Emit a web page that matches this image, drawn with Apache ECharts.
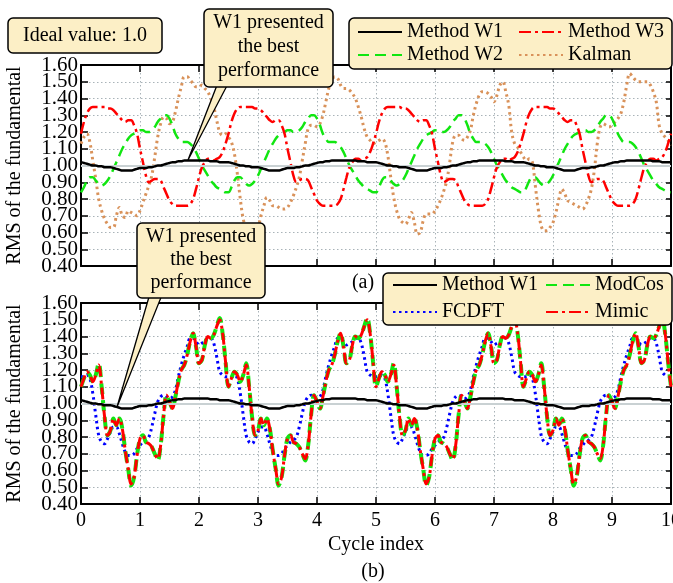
<!DOCTYPE html>
<html><head><meta charset="utf-8">
<script src="https://cdn.jsdelivr.net/npm/echarts@6/dist/echarts.min.js"></script>
<style>html,body{margin:0;padding:0;background:#fff}#c{width:673px;height:583px}</style>
</head><body><div id="c"></div>
<script>
// sample spacing along "Cycle index"
const step = 0.05;
const yTickLabels = ['0.40','0.50','0.60','0.70','0.80','0.90','1.00','1.10','1.20','1.30','1.40','1.50','1.60'];
const xTickLabels = ['0','1','2','3','4','5','6','7','8','9','10'];

// ---- (a) ----
const methodW1 = [
1.02,1.015,1.01,1.005,1.00,1.00,0.995,0.995,0.99,0.99,0.99,0.985,0.98,0.975,0.97,0.97,0.97,0.97,0.975,0.98,0.985,0.985,0.985,0.99,0.99,0.995,1.00,1.00,1.005,1.01,1.015,1.02,1.02,1.025,1.025,1.03,1.03,1.03,1.03,1.03,1.03,1.03,1.03,1.03,1.025,1.025,1.025,1.02,1.02,1.02,
1.02,1.015,1.01,1.005,1.00,1.00,0.995,0.995,0.99,0.99,0.99,0.985,0.98,0.975,0.97,0.97,0.97,0.97,0.975,0.98,0.985,0.985,0.985,0.99,0.99,0.995,1.00,1.00,1.005,1.01,1.015,1.02,1.02,1.025,1.025,1.03,1.03,1.03,1.03,1.03,1.03,1.03,1.03,1.03,1.025,1.025,1.025,1.02,1.02,1.02,
1.02,1.015,1.01,1.005,1.00,1.00,0.995,0.995,0.99,0.99,0.99,0.985,0.98,0.975,0.97,0.97,0.97,0.97,0.975,0.98,0.985,0.985,0.985,0.99,0.99,0.995,1.00,1.00,1.005,1.01,1.015,1.02,1.02,1.025,1.025,1.03,1.03,1.03,1.03,1.03,1.03,1.03,1.03,1.03,1.025,1.025,1.025,1.02,1.02,1.02,
1.02,1.015,1.01,1.005,1.00,1.00,0.995,0.995,0.99,0.99,0.99,0.985,0.98,0.975,0.97,0.97,0.97,0.97,0.975,0.98,0.985,0.985,0.985,0.99,0.99,0.995,1.00,1.00,1.005,1.01,1.015,1.02,1.02,1.025,1.025,1.03,1.03,1.03,1.03,1.03,1.03,1.03,1.03,1.03,1.025,1.025,1.025,1.02,1.02,1.02,
1.02];
const methodW2 = [
0.84,0.87,0.91,0.93,0.93,0.91,0.89,0.88,0.89,0.91,0.94,0.98,1.02,1.06,1.10,1.13,1.16,1.18,1.19,1.20,1.21,1.21,1.20,1.20,1.21,1.23,1.26,1.28,1.30,1.30,1.28,1.24,1.19,1.16,1.14,1.14,1.14,1.13,1.11,1.08,1.04,1.00,0.97,0.94,0.91,0.89,0.87,0.86,0.85,0.84,
0.84,0.87,0.91,0.93,0.93,0.91,0.89,0.88,0.89,0.91,0.94,0.98,1.02,1.06,1.10,1.13,1.16,1.18,1.19,1.20,1.21,1.21,1.20,1.20,1.21,1.23,1.26,1.28,1.30,1.30,1.28,1.24,1.19,1.16,1.14,1.14,1.14,1.13,1.11,1.08,1.04,1.00,0.97,0.94,0.91,0.89,0.87,0.86,0.85,0.84,
0.84,0.87,0.91,0.93,0.93,0.91,0.89,0.88,0.89,0.91,0.94,0.98,1.02,1.06,1.10,1.13,1.16,1.18,1.19,1.20,1.21,1.21,1.20,1.20,1.21,1.23,1.26,1.28,1.30,1.30,1.28,1.24,1.19,1.16,1.14,1.14,1.14,1.13,1.11,1.08,1.04,1.00,0.97,0.94,0.91,0.89,0.87,0.86,0.85,0.84,
0.84,0.87,0.91,0.93,0.93,0.91,0.89,0.88,0.89,0.91,0.94,0.98,1.02,1.06,1.10,1.13,1.16,1.18,1.19,1.20,1.21,1.21,1.20,1.20,1.21,1.23,1.26,1.28,1.30,1.30,1.28,1.24,1.19,1.16,1.14,1.14,1.14,1.13,1.11,1.08,1.04,1.00,0.97,0.94,0.91,0.89,0.87,0.86,0.85,0.84,
0.84];
const methodW3 = [
1.19,1.26,1.31,1.34,1.35,1.35,1.35,1.35,1.35,1.34,1.34,1.33,1.31,1.29,1.27,1.26,1.27,1.27,1.24,1.19,1.10,1.02,0.94,0.90,0.91,0.92,0.92,0.91,0.87,0.83,0.79,0.77,0.76,0.76,0.76,0.76,0.76,0.77,0.80,0.86,0.93,0.99,1.02,1.04,1.04,1.03,1.04,1.05,1.08,1.13,
1.19,1.26,1.31,1.34,1.35,1.35,1.35,1.35,1.35,1.34,1.34,1.33,1.31,1.29,1.27,1.26,1.27,1.27,1.24,1.19,1.10,1.02,0.94,0.90,0.91,0.92,0.92,0.91,0.87,0.83,0.79,0.77,0.76,0.76,0.76,0.76,0.76,0.77,0.80,0.86,0.93,0.99,1.02,1.04,1.04,1.03,1.04,1.05,1.08,1.13,
1.19,1.26,1.31,1.34,1.35,1.35,1.35,1.35,1.35,1.34,1.34,1.33,1.31,1.29,1.27,1.26,1.27,1.27,1.24,1.19,1.10,1.02,0.94,0.90,0.91,0.92,0.92,0.91,0.87,0.83,0.79,0.77,0.76,0.76,0.76,0.76,0.76,0.77,0.80,0.86,0.93,0.99,1.02,1.04,1.04,1.03,1.04,1.05,1.08,1.13,
1.19,1.26,1.31,1.34,1.35,1.35,1.35,1.35,1.35,1.34,1.34,1.33,1.31,1.29,1.27,1.26,1.27,1.27,1.24,1.19,1.10,1.02,0.94,0.90,0.91,0.92,0.92,0.91,0.87,0.83,0.79,0.77,0.76,0.76,0.76,0.76,0.76,0.77,0.80,0.86,0.93,0.99,1.02,1.04,1.04,1.03,1.04,1.05,1.08,1.13,
1.19];
const kalman = [
1.13,1.17,1.19,1.14,1.03,0.92,0.80,0.73,0.68,0.65,0.63,0.63,0.70,0.75,0.70,0.69,0.73,0.72,0.71,0.70,0.73,0.78,0.83,0.88,0.94,1.05,1.17,1.25,1.29,1.28,1.25,1.26,1.32,1.40,1.47,1.53,1.53,1.51,1.49,1.47,1.47,1.48,1.46,1.44,1.40,1.35,1.27,1.20,1.18,1.19,
1.17,1.14,1.07,0.95,0.80,0.68,0.63,0.61,0.60,0.60,0.63,0.70,0.76,0.81,0.79,0.76,0.76,0.75,0.74,0.74,0.75,0.78,0.82,0.87,0.93,1.03,1.13,1.22,1.24,1.24,1.23,1.25,1.30,1.38,1.46,1.51,1.53,1.52,1.48,1.46,1.46,1.45,1.43,1.40,1.35,1.29,1.22,1.17,1.15,1.13,
1.14,1.15,1.16,1.14,1.06,0.93,0.81,0.73,0.68,0.66,0.65,0.68,0.72,0.66,0.59,0.60,0.67,0.71,0.71,0.71,0.73,0.76,0.80,0.85,0.91,1.02,1.14,1.18,1.18,1.16,1.15,1.17,1.21,1.30,1.37,1.42,1.44,1.44,1.43,1.41,1.38,1.42,1.48,1.50,1.44,1.36,1.20,1.13,1.11,1.08,
1.05,1.03,1.04,1.02,0.88,0.74,0.64,0.61,0.61,0.63,0.66,0.72,0.80,0.86,0.83,0.79,0.78,0.77,0.76,0.75,0.74,0.76,0.80,0.86,0.97,1.13,1.23,1.25,1.24,1.23,1.24,1.26,1.28,1.31,1.38,1.48,1.55,1.53,1.51,1.50,1.50,1.50,1.50,1.48,1.44,1.38,1.24,1.19,1.17,1.15,
1.12];

// ---- (b) ----
const fcdft = [
1.16,1.16,1.17,1.15,1.06,0.93,0.81,0.77,0.76,0.79,0.83,0.86,0.86,0.82,0.76,0.71,0.69,0.69,0.70,0.73,0.75,0.77,0.78,0.80,0.86,0.94,1.01,1.04,1.05,1.04,1.03,1.04,1.08,1.16,1.23,1.29,1.34,1.39,1.39,1.37,1.35,1.36,1.37,1.39,1.39,1.36,1.28,1.19,1.17,1.16,
1.16,1.16,1.17,1.15,1.06,0.93,0.81,0.77,0.76,0.79,0.83,0.86,0.86,0.82,0.76,0.71,0.69,0.69,0.70,0.73,0.75,0.77,0.78,0.80,0.86,0.94,1.01,1.04,1.05,1.04,1.03,1.04,1.08,1.16,1.23,1.29,1.34,1.39,1.39,1.37,1.35,1.36,1.37,1.39,1.39,1.36,1.28,1.19,1.17,1.16,
1.16,1.16,1.17,1.15,1.06,0.93,0.81,0.77,0.76,0.79,0.83,0.86,0.86,0.82,0.76,0.71,0.69,0.69,0.70,0.73,0.75,0.77,0.78,0.80,0.86,0.94,1.01,1.04,1.05,1.04,1.03,1.04,1.08,1.16,1.23,1.29,1.34,1.39,1.39,1.37,1.35,1.36,1.37,1.39,1.39,1.36,1.28,1.19,1.17,1.16,
1.16,1.16,1.17,1.15,1.06,0.93,0.81,0.77,0.76,0.79,0.83,0.86,0.86,0.82,0.76,0.71,0.69,0.69,0.70,0.73,0.75,0.77,0.78,0.80,0.86,0.94,1.01,1.04,1.05,1.04,1.03,1.04,1.08,1.16,1.23,1.29,1.34,1.39,1.39,1.37,1.35,1.36,1.37,1.39,1.39,1.36,1.28,1.19,1.17,1.16,
1.16];
const mimic = [
1.10,1.15,1.19,1.17,1.13,1.17,1.23,1.10,0.92,0.81,0.84,0.91,0.87,0.91,0.85,0.72,0.61,0.52,0.56,0.69,0.79,0.81,0.77,0.76,0.74,0.70,0.67,0.75,0.93,1.05,1.01,0.97,1.04,1.13,1.20,1.23,1.29,1.37,1.42,1.34,1.24,1.26,1.35,1.40,1.39,1.41,1.46,1.50,1.42,1.25,
1.10,1.15,1.19,1.17,1.13,1.17,1.23,1.10,0.92,0.81,0.84,0.91,0.87,0.91,0.85,0.72,0.61,0.52,0.56,0.69,0.79,0.81,0.77,0.76,0.74,0.70,0.67,0.75,0.93,1.05,1.01,0.97,1.04,1.13,1.20,1.23,1.29,1.37,1.42,1.34,1.24,1.26,1.35,1.40,1.39,1.41,1.46,1.50,1.42,1.25,
1.10,1.15,1.19,1.17,1.13,1.17,1.23,1.10,0.92,0.81,0.84,0.91,0.87,0.91,0.85,0.72,0.61,0.52,0.56,0.69,0.79,0.81,0.77,0.76,0.74,0.70,0.67,0.75,0.93,1.05,1.01,0.97,1.04,1.13,1.20,1.23,1.29,1.37,1.42,1.34,1.24,1.26,1.35,1.40,1.39,1.41,1.46,1.50,1.42,1.25,
1.10,1.15,1.19,1.17,1.13,1.17,1.23,1.10,0.92,0.81,0.84,0.91,0.87,0.91,0.85,0.72,0.61,0.52,0.56,0.69,0.79,0.81,0.77,0.76,0.74,0.70,0.67,0.75,0.93,1.05,1.01,0.97,1.04,1.13,1.20,1.23,1.29,1.37,1.42,1.34,1.24,1.26,1.35,1.40,1.39,1.41,1.46,1.50,1.42,1.25,
1.10];
const modCos = [
1.10,1.15,1.19,1.17,1.13,1.17,1.24,1.10,0.92,0.81,0.84,0.91,0.87,0.91,0.85,0.72,0.61,0.51,0.56,0.69,0.79,0.81,0.77,0.76,0.74,0.70,0.66,0.75,0.93,1.05,1.01,0.97,1.04,1.13,1.20,1.23,1.29,1.37,1.42,1.34,1.24,1.26,1.35,1.40,1.39,1.41,1.46,1.51,1.42,1.25,
1.10,1.15,1.19,1.17,1.13,1.17,1.24,1.10,0.92,0.81,0.84,0.91,0.87,0.91,0.85,0.72,0.61,0.51,0.56,0.69,0.79,0.81,0.77,0.76,0.74,0.70,0.66,0.75,0.93,1.05,1.01,0.97,1.04,1.13,1.20,1.23,1.29,1.37,1.42,1.34,1.24,1.26,1.35,1.40,1.39,1.41,1.46,1.51,1.42,1.25,
1.10,1.15,1.19,1.17,1.13,1.17,1.24,1.10,0.92,0.81,0.84,0.91,0.87,0.91,0.85,0.72,0.61,0.51,0.56,0.69,0.79,0.81,0.77,0.76,0.74,0.70,0.66,0.75,0.93,1.05,1.01,0.97,1.04,1.13,1.20,1.23,1.29,1.37,1.42,1.34,1.24,1.26,1.35,1.40,1.39,1.41,1.46,1.51,1.42,1.25,
1.10,1.15,1.19,1.17,1.13,1.17,1.24,1.10,0.92,0.81,0.84,0.91,0.87,0.91,0.85,0.72,0.61,0.51,0.56,0.69,0.79,0.81,0.77,0.76,0.74,0.70,0.66,0.75,0.93,1.05,1.01,0.97,1.04,1.13,1.20,1.23,1.29,1.37,1.42,1.34,1.24,1.26,1.35,1.40,1.39,1.41,1.46,1.51,1.42,1.25,
1.10];

const FONT = 'Liberation Serif';
const CREAM = '#fcefc6';
const pairs = arr => arr.map((v, i) => [Math.round(i * step * 100) / 100, v]);

const chart = echarts.init(document.getElementById('c'), null, {renderer: 'canvas'});

function xAx(grid, pos, labels) {
  return {
    gridIndex: grid, type: 'value', min: 0, max: 10, interval: 1, position: pos,
    axisLine: {show: true, onZero: false, lineStyle: {color: '#000', width: 2}},
    axisTick: {show: true, inside: true, length: 7, lineStyle: {color: '#000', width: 1.5}},
    axisLabel: {show: labels, color: '#000', fontFamily: FONT, fontSize: 20, margin: 7, hideOverlap: false,
      formatter: v => xTickLabels[Math.round(v)], showMinLabel: true, showMaxLabel: true},
    splitLine: {show: pos === 'bottom', lineStyle: {color: '#a9b3b8', type: [1.5, 2.5], width: 1}},
    name: labels ? 'Cycle index' : '', nameLocation: 'middle', nameGap: 31,
    nameTextStyle: {color: '#000', fontFamily: FONT, fontSize: 20}
  };
}
const yLabelStyle = {fontFamily: FONT, fontSize: 21, color: '#000', lineHeight: 12, height: 12, padding: 0};
function yAx(grid, pos) {
  const left = pos === 'left';
  return {
    gridIndex: grid, type: 'value', min: 0.4, max: 1.6, interval: 0.1, position: pos,
    axisLine: {show: true, onZero: false, lineStyle: {color: '#000', width: 2}},
    axisTick: {show: true, inside: true, length: left ? 7 : 5, lineStyle: {color: '#000', width: 1.5}},
    axisLabel: {show: left, color: '#000', margin: 3, hideOverlap: false,
      formatter: v => '{t|' + yTickLabels[Math.round((v - 0.4) * 10)] + '}',
      rich: {t: yLabelStyle},
      showMinLabel: false, showMaxLabel: false},
    splitLine: {show: left, lineStyle: {color: '#a9b3b8', type: [1.5, 2.5], width: 1}},
    name: left ? 'RMS of the fundamental' : '', nameLocation: 'middle', nameGap: 56,
    nameTextStyle: {color: '#000', fontFamily: FONT, fontSize: 20}
  };
}
// companion left axis carrying only the end labels (0.40 and 1.60)
function yEnds(grid) {
  return {
    gridIndex: grid, type: 'value', min: 0.4, max: 1.6, interval: 1.2, position: 'left',
    axisLine: {show: false}, axisTick: {show: false}, splitLine: {show: false},
    axisLabel: {show: true, margin: 3, hideOverlap: false,
      formatter: v => '{t|' + yTickLabels[Math.round((v - 0.4) * 10)] + '}',
      rich: {t: yLabelStyle}, showMinLabel: true, showMaxLabel: true}
  };
}
function line(name, data, gi, color, width, type, z) {
  return {
    name, type: 'line', data: pairs(data), xAxisIndex: gi * 2, yAxisIndex: gi * 2,
    symbol: 'none', showSymbol: false, smooth: 0.35, z: z, animation: false,
    lineStyle: {color, width, type, cap: 'butt'}, itemStyle: {color}
  };
}
const refLine = {silent: true, symbol: 'none', label: {show: false},
  lineStyle: {color: '#c9d1d3', type: 'solid', width: 2}, data: [{yAxis: 1}]};

const sKal = line('Kalman', kalman, 0, '#d9925a', 3, [2.5, 3.5], 2); sKal.markLine = refLine;
const sFc = line('FCDFT', fcdft, 1, '#0000ff', 3, [2.5, 3.5], 2); sFc.markLine = refLine;

const legendText = {color: '#000', fontFamily: FONT, fontSize: 20, lineHeight: 20};
function leg(left, top, data, gap) {
  return {left, top, orient: 'vertical', data, itemWidth: 44, itemHeight: 14, itemGap: gap,
    padding: 0, textStyle: legendText, z: 200, selectedMode: false,
    itemStyle: {opacity: 0, borderWidth: 0}};
}

function box(x, y, w, h) {
  return {type: 'rect', shape: {x, y, width: w, height: h, r: 5}, z: 100,
    style: {fill: CREAM, stroke: '#000', lineWidth: 1.5}};
}
function txt(x, y, text, lh) {
  return {type: 'text', x, y, z: 101, style: {text, fill: '#000', fontFamily: FONT, fontSize: 20,
    textAlign: 'center', textVerticalAlign: 'middle', lineHeight: lh || 20}};
}
function tail(pts) {
  return {type: 'polygon', shape: {points: pts}, z: 99,
    style: {fill: CREAM, stroke: '#000', lineWidth: 1.3}};
}

chart.setOption({
  animation: false,
  backgroundColor: '#fff',
  grid: [
    {left: 81, top: 65, width: 590, height: 201, outerBoundsMode: 'none'},
    {left: 81, top: 303, width: 590, height: 201, outerBoundsMode: 'none'}
  ],
  xAxis: [xAx(0, 'bottom', false), xAx(0, 'top', false), xAx(1, 'bottom', true), xAx(1, 'top', false)],
  yAxis: [yAx(0, 'left'), yAx(0, 'right'), yAx(1, 'left'), yAx(1, 'right'), yEnds(0), yEnds(1)],
  legend: [
    leg(357, 22, ['Method W1', 'Method W2'], 3),
    leg(518, 22, ['Method W3', 'Kalman'], 3),
    leg(392, 275, ['Method W1', 'FCDFT'], 7),
    leg(545, 275, ['ModCos', 'Mimic'], 7)
  ],
  series: [
    sKal,
    line('Method W2', methodW2, 0, '#11e611', 2.5, [11, 6], 3),
    line('Method W3', methodW3, 0, '#ff0000', 2.5, [12, 4, 3, 4], 4),
    line('Method W1', methodW1, 0, '#000000', 2.5, 'solid', 5),
    sFc,
    line('ModCos', modCos, 1, '#11e611', 4, [11, 6], 3),
    line('Mimic', mimic, 1, '#ff0000', 3, [12, 4, 3, 4], 4),
    line('Method W1', methodW1, 1, '#000000', 2.5, 'solid', 5)
  ],
  graphic: [
    box(349, 18, 323, 51),
    box(383, 273, 289, 52),
    box(8, 18, 154, 35),
    txt(85, 36, 'Ideal value: 1.0'),
    tail([[219, 80], [230, 80], [188, 160]]),
    box(204, 9, 129, 78),
    txt(268.5, 47, 'W1 presented\nthe best\nperformance', 24),
    tail([[151, 290], [164, 290], [117, 407]]),
    box(137, 223, 128, 75),
    txt(201, 260, 'W1 presented\nthe best\nperformance', 23),
    txt(363, 283, '(a)'),
    txt(373, 572, '(b)')
  ]
});
</script></body></html>
